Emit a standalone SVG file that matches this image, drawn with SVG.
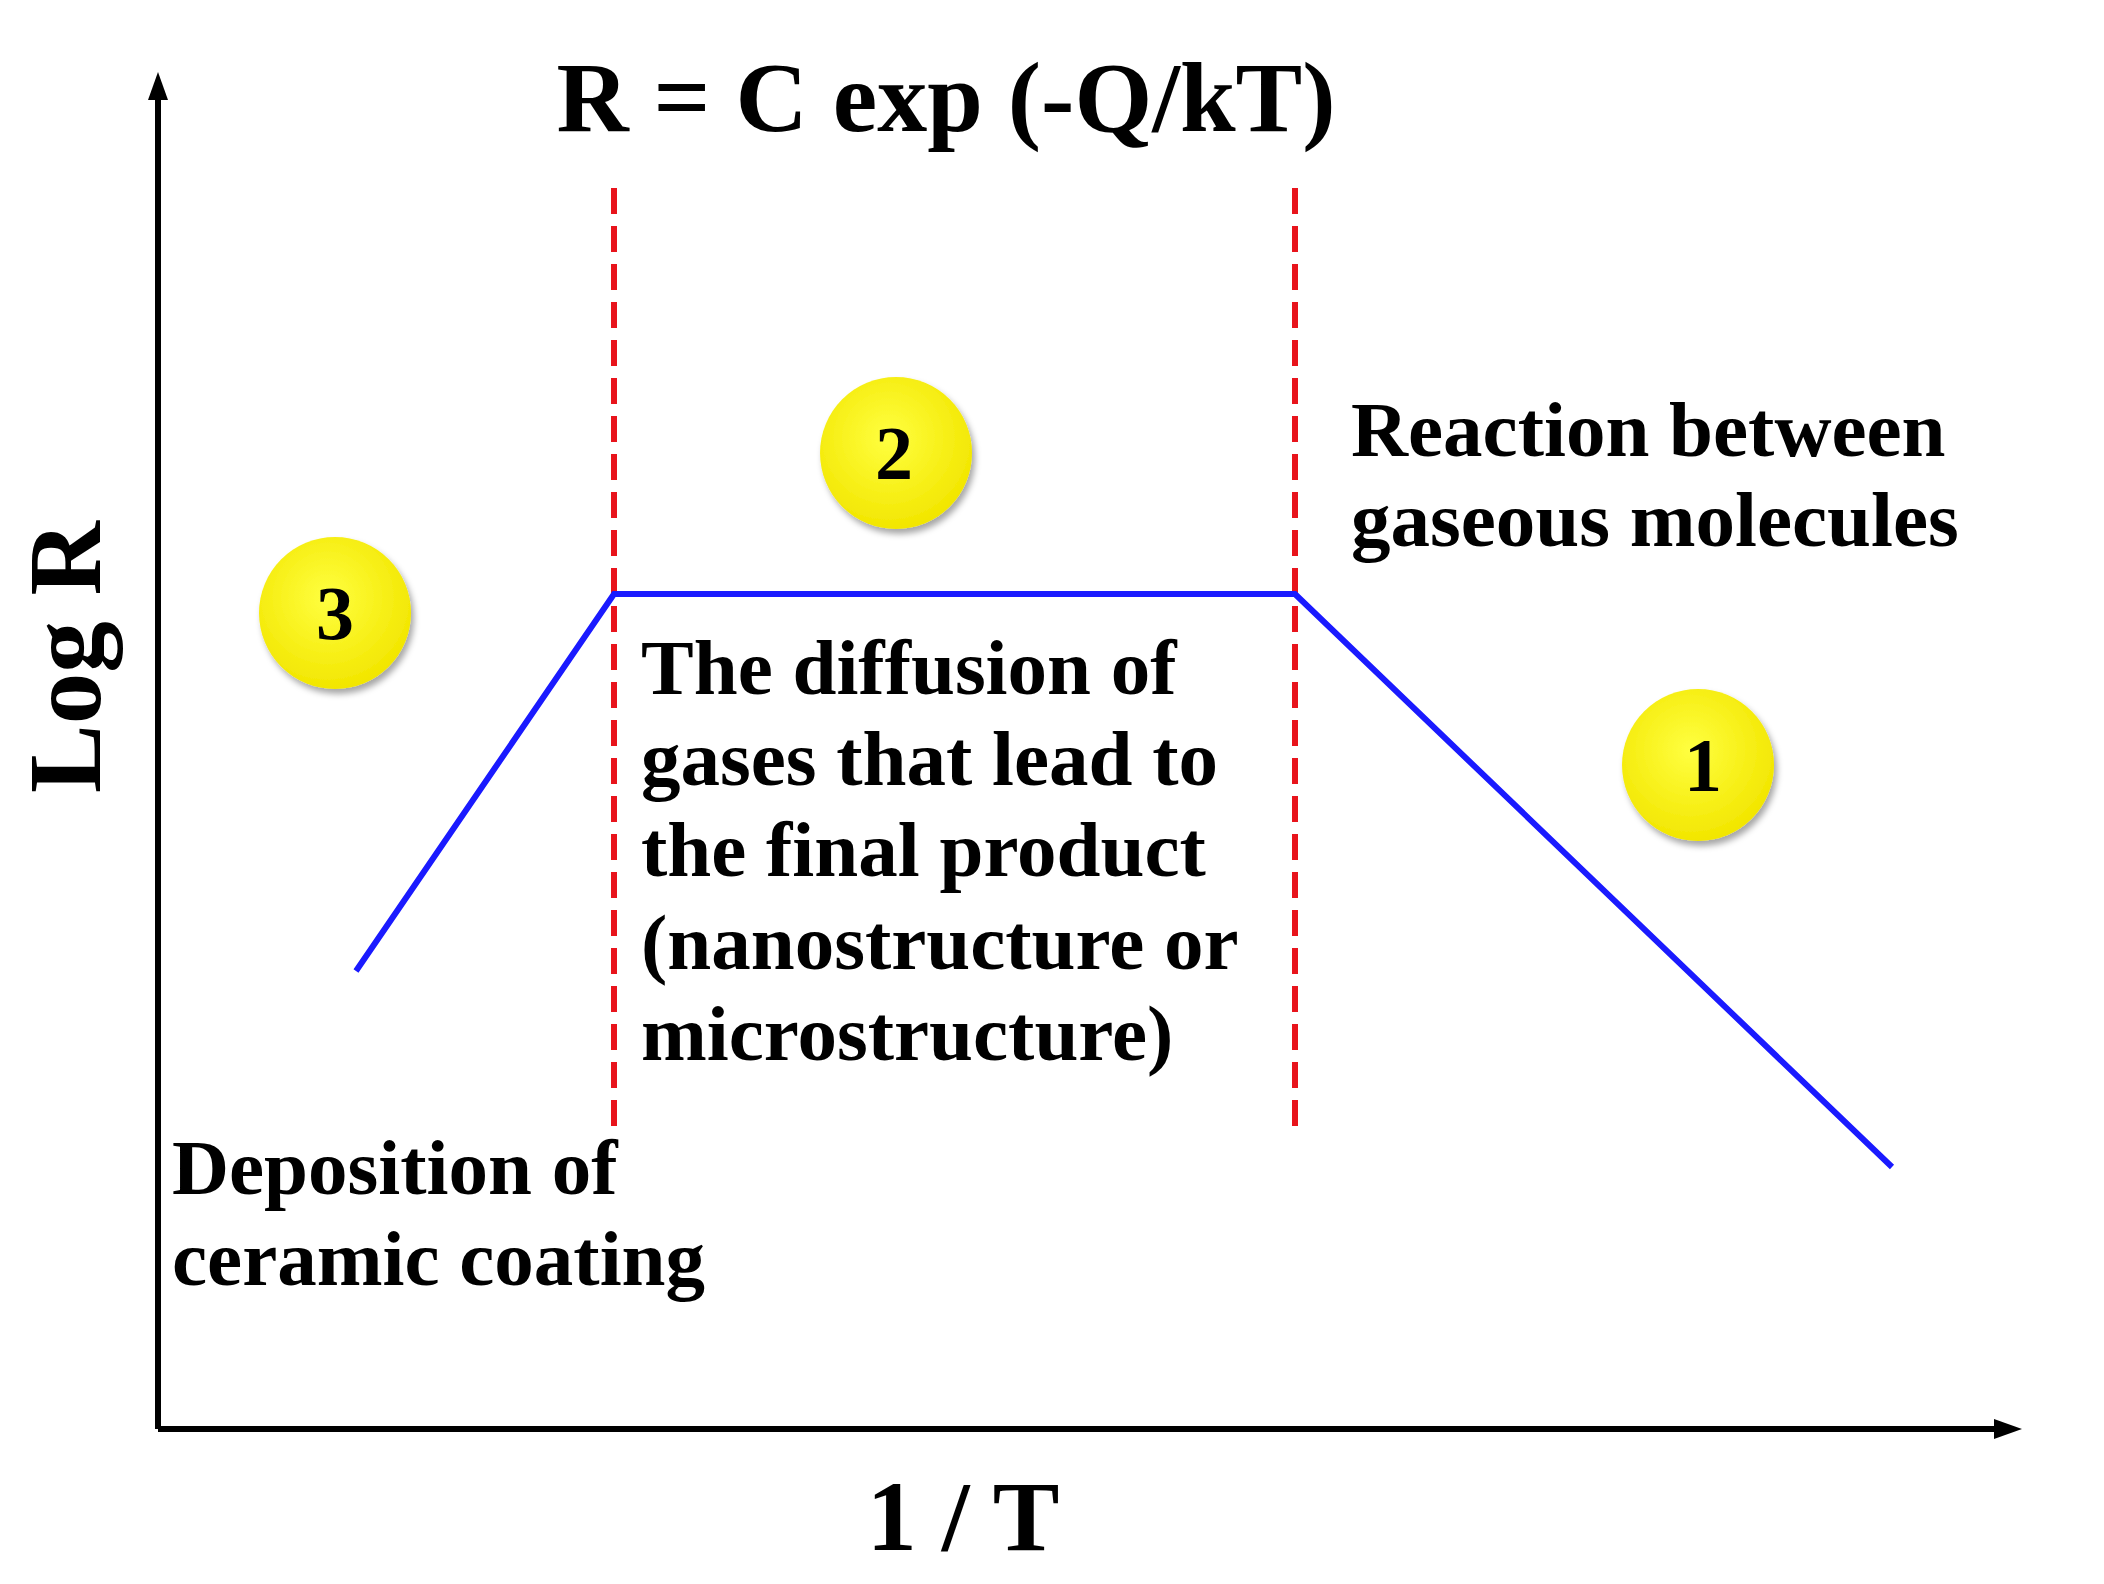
<svg xmlns="http://www.w3.org/2000/svg" width="2104" height="1584" viewBox="0 0 2104 1584">
<style>
text{font-family:"Liberation Serif","Times New Roman",serif;font-weight:bold;fill:#000}
.lbl{font-size:79px}
.num{font-size:76px}
.red{stroke:#e8141c;stroke-width:6;stroke-dasharray:26 12;fill:none}
</style>
<defs>
<radialGradient id="yg" cx="0.45" cy="0.4" r="0.6"><stop offset="0" stop-color="#ffff40"/><stop offset="1" stop-color="#f2e600"/></radialGradient>
<filter id="sh" x="-30%" y="-30%" width="160%" height="160%"><feDropShadow dx="3" dy="5" stdDeviation="3" flood-color="#000" flood-opacity="0.35"/></filter>
</defs>
<rect width="2104" height="1584" fill="#fff"/>
<g id="axes" stroke="#000" stroke-width="6" fill="none">
<path d="M158 1429 V88"/><path d="M158 1429 H2000"/>
</g>
<polygon points="158,72 148,100 168,100" fill="#000"/>
<polygon points="2022,1429 1994,1419 1994,1439" fill="#000"/>
<g id="connectors">
<line class="red" x1="614" y1="188" x2="614" y2="1127"/>
<line class="red" x1="1295" y1="188" x2="1295" y2="1127"/>
<polyline points="356,971 614,594 1295,594 1892,1167" fill="none" stroke="#1a1aff" stroke-width="6"/>
</g>
<text x="946" y="131" font-size="100" text-anchor="middle">R = C exp (-Q/kT)</text>
<text transform="translate(100,657) rotate(-90)" font-size="103" text-anchor="middle">Log R</text>
<text x="963" y="1550" font-size="100" text-anchor="middle">1 / T</text>
<g id="n2"><circle cx="896" cy="453" r="76" fill="url(#yg)" filter="url(#sh)"/><text class="num" x="894" y="479" text-anchor="middle">2</text></g>
<g id="n3"><circle cx="335" cy="613" r="76" fill="url(#yg)" filter="url(#sh)"/><text class="num" x="335" y="639" text-anchor="middle">3</text></g>
<g id="n1"><circle cx="1698" cy="765" r="76" fill="url(#yg)" filter="url(#sh)"/><text class="num" x="1703" y="791" text-anchor="middle">1</text></g>
<g id="t1"><text class="lbl" x="1351" y="456">Reaction between</text><text class="lbl" x="1351" y="546">gaseous molecules</text></g>
<g id="t2"><text class="lbl" x="641" y="694">The diffusion of</text><text class="lbl" x="641" y="785">gases that lead to</text><text class="lbl" x="641" y="876">the final product</text><text class="lbl" x="641" y="969">(nanostructure or</text><text class="lbl" x="641" y="1060">microstructure)</text></g>
<g id="t3"><text class="lbl" x="172" y="1194">Deposition of</text><text class="lbl" x="172" y="1285">ceramic coating</text></g>
</svg>
